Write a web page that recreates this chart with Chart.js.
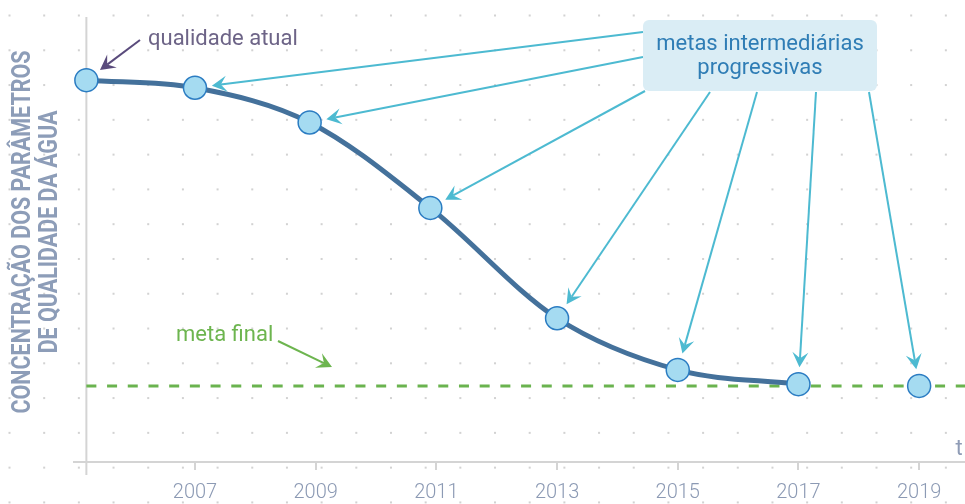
<!DOCTYPE html>
<html lang="pt">
<head>
<meta charset="utf-8">
<script src="https://cdn.jsdelivr.net/npm/chart.js@4.4.0/dist/chart.umd.min.js"></script>
<style>
  body { margin: 0; background: #fff; overflow: hidden; }
  #wrap { width: 965px; height: 504px; position: relative; }
</style>
</head>
<body>
<div id="wrap"><canvas id="grafico"></canvas></div>
<script>
// valores (eixo y em unidades arbitrárias 0-100)
const anosCurva = [2005.2, 2007, 2008.9, 2010.9, 2013, 2015, 2017];
const valoresCurva = [85.8, 84.1, 76.3, 57.1, 32.3, 20.7, 17.5];
const anosExtra = [2019];
const valoresExtra = [17.1];
const metaFinal = 17.1;
const anosTicks = [2007, 2009, 2011, 2013, 2015, 2017, 2019];
const tituloY = ['CONCENTRAÇÃO DOS PARÂMETROS', 'DE QUALIDADE DA ÁGUA'];

const X_MIN = 2005, X_MAX = 2019.76;
const FONTE = 'Roboto, "Noto Sans", sans-serif';

function seta(ctx, x1, y1, x2, y2, cor) {
    const ang = Math.atan2(y2 - y1, x2 - x1);
    const len = 15, w = 8, notch = 9;
    ctx.save();
    ctx.strokeStyle = cor;
    ctx.fillStyle = cor;
    ctx.lineWidth = 2;
    ctx.beginPath();
    ctx.moveTo(x1, y1);
    ctx.lineTo(x2 - Math.cos(ang) * notch, y2 - Math.sin(ang) * notch);
    ctx.stroke();
    ctx.translate(x2, y2);
    ctx.rotate(ang);
    ctx.beginPath();
    ctx.moveTo(0, 0);
    ctx.lineTo(-len, -w);
    ctx.lineTo(-notch, 0);
    ctx.lineTo(-len, w);
    ctx.closePath();
    ctx.fill();
    ctx.restore();
}

// aponta para um ponto, parando a ~17px do centro
function setaParaPonto(ctx, x1, y1, pt, cor) {
    const dx = x1 - pt.x, dy = y1 - pt.y;
    const d = Math.hypot(dx, dy);
    seta(ctx, x1, y1, pt.x + dx / d * 17, pt.y + dy / d * 17, cor);
}

const fundo = {
    id: 'fundo',
    beforeDraw(chart) {
        const ctx = chart.ctx;
        ctx.save();
        ctx.fillStyle = '#fff';
        ctx.fillRect(0, 0, chart.width, chart.height);
        // grade de pontinhos
        ctx.fillStyle = '#d2d2d2';
        for (let x = 9.5; x < chart.width; x += 34.68) {
            for (let y = 15.5; y < chart.height; y += 34.78) {
                ctx.fillRect(x - 1, y - 1, 2, 2);
            }
        }
        ctx.restore();
    },
    beforeDatasetsDraw(chart) {
        const ctx = chart.ctx;
        const p0 = chart.getDatasetMeta(0).data[0];
        ctx.save();
        ctx.strokeStyle = '#d4d4d4';
        ctx.lineWidth = 2;
        ctx.beginPath();
        ctx.moveTo(p0.x, chart.chartArea.top);
        ctx.lineTo(p0.x, chart.chartArea.bottom + 13);
        ctx.stroke();
        ctx.restore();

        // título do eixo y, condensado
        ctx.save();
        ctx.font = 'bold 25px ' + FONTE;
        ctx.fillStyle = '#8d9db8';
        ctx.textAlign = 'center';
        ctx.textBaseline = 'middle';
        const larg = ctx.measureText(tituloY[0]).width;
        const esc = 363 / larg;
        tituloY.forEach((linha, i) => {
            ctx.save();
            ctx.translate(24 + i * 27, 232);
            ctx.rotate(-Math.PI / 2);
            ctx.scale(esc, 1);
            ctx.fillText(linha, 0, 0);
            ctx.restore();
        });
        ctx.restore();
    }
};

const anotacoes = {
    id: 'anotacoes',
    afterDatasetsDraw(chart) {
        const ctx = chart.ctx;
        const pts = chart.getDatasetMeta(0).data.concat(chart.getDatasetMeta(1).data);
        const ciano = '#4dbad1';

        // qualidade atual
        setaParaPonto(ctx, 140, 40, pts[0], '#5a4b7c');
        ctx.save();
        ctx.font = '22px ' + FONTE;
        ctx.fillStyle = '#6d6487';
        ctx.textBaseline = 'alphabetic';
        ctx.fillText('qualidade atual', 148, 45);
        ctx.restore();

        // metas intermediárias
        const inicios = [[643, 32], [643, 57], [645, 91], [710, 92], [757, 92], [816, 92], [869, 92]];
        inicios.forEach((s, i) => setaParaPonto(ctx, s[0], s[1], pts[i + 1], ciano));

        ctx.save();
        ctx.fillStyle = '#daedf5';
        ctx.beginPath();
        ctx.roundRect(643, 20, 234, 71, 6);
        ctx.fill();
        ctx.font = '22px ' + FONTE;
        ctx.fillStyle = '#2f7db5';
        ctx.textAlign = 'center';
        ctx.textBaseline = 'middle';
        ctx.fillText('metas intermediárias', 760, 44);
        ctx.fillText('progressivas', 760, 68);
        ctx.restore();

        // meta final
        seta(ctx, 278, 341, 332, 367, '#6db54f');
        ctx.save();
        ctx.font = '22px ' + FONTE;
        ctx.fillStyle = '#6db54f';
        ctx.fillText('meta final', 176, 341);
        // t
        ctx.fillStyle = '#8f9cb6';
        ctx.textAlign = 'center';
        ctx.fillText('t', 959, 455);
        ctx.restore();
    }
};

const ctx = document.getElementById('grafico').getContext('2d');

new Chart(ctx, {
    type: 'line',
    data: {
        datasets: [
            {
                label: 'trajetória',
                data: anosCurva.map((a, i) => ({ x: a, y: valoresCurva[i] })),
                borderColor: '#44719b',
                borderWidth: 5,
                cubicInterpolationMode: 'monotone',
                pointRadius: 11.5,
                pointBorderWidth: 1.5,
                pointBackgroundColor: '#a5dbf1',
                pointBorderColor: '#2b7cc2',
                clip: false
            },
            {
                label: 'meta 2019',
                data: anosExtra.map((a, i) => ({ x: a, y: valoresExtra[i] })),
                showLine: false,
                pointRadius: 11.5,
                pointBorderWidth: 1.5,
                pointBackgroundColor: '#a5dbf1',
                pointBorderColor: '#2b7cc2',
                clip: false
            },
            {
                label: 'meta final',
                data: [{ x: anosCurva[0], y: metaFinal }, { x: X_MAX, y: metaFinal }],
                borderColor: '#6ab34f',
                borderWidth: 3,
                borderDash: [10, 10.7],
                pointRadius: 0,
                clip: false
            }
        ]
    },
    options: {
        responsive: true,
        maintainAspectRatio: false,
        animation: false,
        events: [],
        layout: { autoPadding: false, padding: { top: 17, left: 0, right: 0, bottom: 0 } },
        plugins: {
            legend: { display: false },
            tooltip: { enabled: false }
        },
        scales: {
            x: {
                type: 'linear',
                bounds: 'data',
                min: X_MIN,
                max: X_MAX,
                afterBuildTicks: (scale) => {
                    scale.ticks = anosTicks.map(v => ({ value: v }));
                },
                afterFit: (scale) => {
                    scale.height = 42;
                    scale.paddingLeft = 0;
                    scale.paddingRight = 0;
                },
                border: { display: true, color: '#d4d4d4', width: 2 },
                grid: {
                    drawOnChartArea: false,
                    drawTicks: true,
                    tickLength: 8,
                    color: '#d4d4d4',
                    lineWidth: 2
                },
                ticks: {
                    padding: 11,
                    color: '#8c9ab4',
                    font: { family: FONTE, size: 20, weight: '300' },
                    callback: (v) => String(v),
                    maxRotation: 0
                }
            },
            y: {
                min: 0,
                max: 100,
                afterFit: (scale) => { scale.width = 74.3; },
                border: { display: false },
                grid: { display: false },
                ticks: { display: false }
            }
        }
    },
    plugins: [fundo, anotacoes]
});
</script>
</body>
</html>
